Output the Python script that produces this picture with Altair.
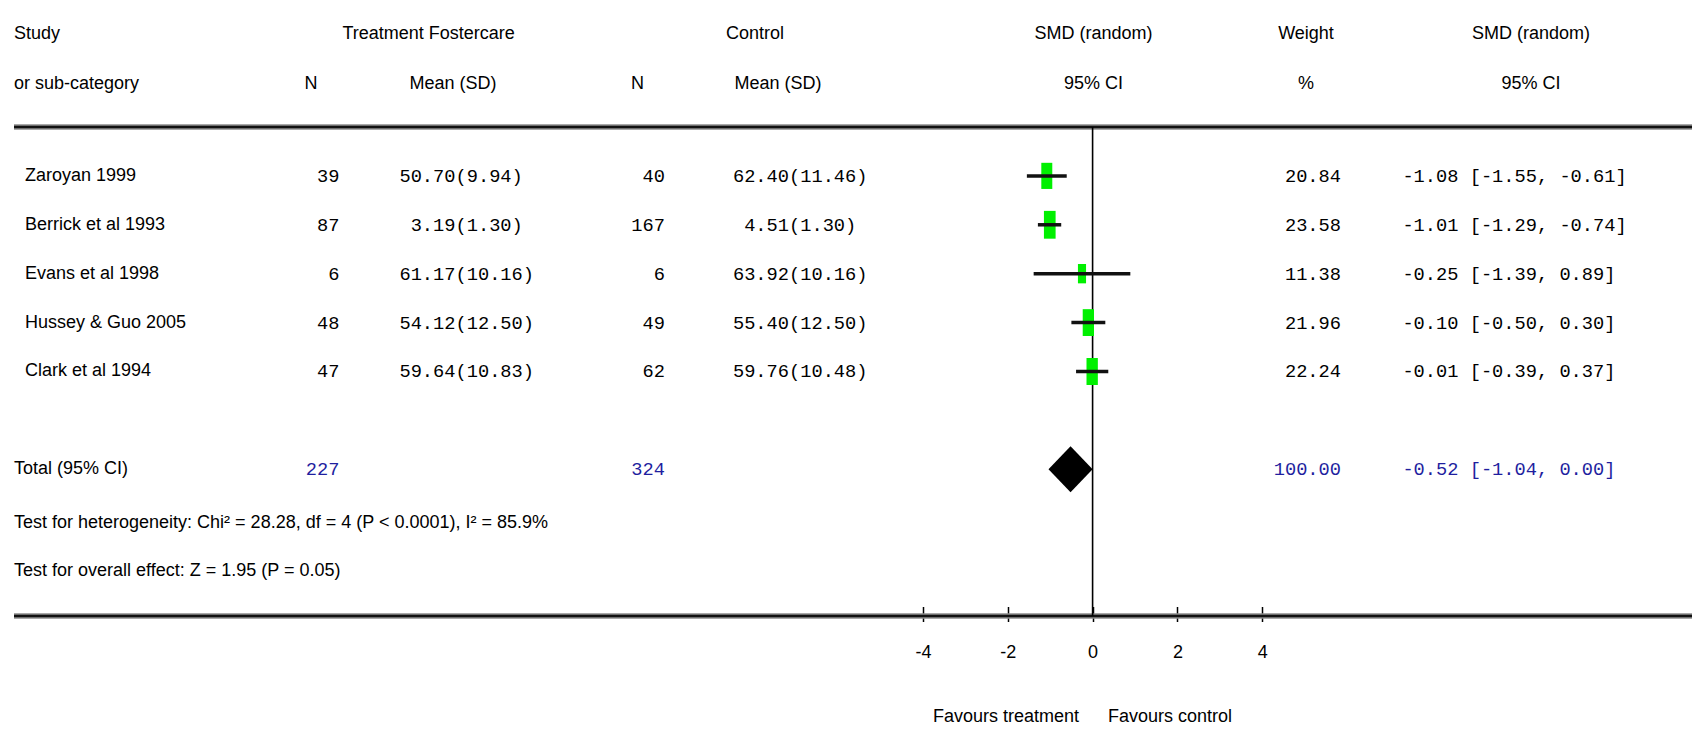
import altair as alt
import pandas as pd

# ---------------- data ----------------
studies = ["Zaroyan 1999", "Berrick et al 1993", "Evans et al 1998",
           "Hussey & Guo 2005", "Clark et al 1994"]
treat_n = [39, 87, 6, 48, 47]
treat_mean = [50.70, 3.19, 61.17, 54.12, 59.64]
treat_sd = [9.94, 1.30, 10.16, 12.50, 10.83]
ctrl_n = [40, 167, 6, 49, 62]
ctrl_mean = [62.40, 4.51, 63.92, 55.40, 59.76]
ctrl_sd = [11.46, 1.30, 10.16, 12.50, 10.48]
smd = [-1.08, -1.01, -0.25, -0.10, -0.01]
ci_low = [-1.55, -1.29, -1.39, -0.50, -0.39]
ci_high = [-0.61, -0.74, 0.89, 0.30, 0.37]
weight = [20.84, 23.58, 11.38, 21.96, 22.24]

total_label = "Total (95% CI)"
total_treat_n = 227
total_ctrl_n = 324
total_weight = 100.00
total_smd = -0.52
total_low = -1.04
total_high = 0.00

heterogeneity_text = "Test for heterogeneity: Chi\u00b2 = 28.28, df = 4 (P < 0.0001), I\u00b2 = 85.9%"
overall_text = "Test for overall effect: Z = 1.95 (P = 0.05)"
axis_ticks = [-4, -2, 0, 2, 4]
favours_left = "Favours treatment"
favours_right = "Favours control"

# ---------------- layout / style ----------------
W = 1684
H = 608
SANS = "Liberation Sans, Arial, sans-serif"
MONO = "Liberation Mono, DejaVu Sans Mono, monospace"
SANS_SIZE = 18
MONO_SIZE = 18.7
BLUE = "#1f1f9f"
GREEN = "#00f000"

study_rows = list(range(len(studies)))
ROW_TOTAL = 6
ROW_HET = 7.1
ROW_OVERALL = 8.08
ROW_H1 = -2.9
ROW_H2 = -1.88
ROW_TOPLINE = -1
ROW_BOTLINE = 9
ROW_FAV = 11.06
DIAMOND_HALF = 0.47

xscale = alt.Scale(domain=[-25.58, 14.137], nice=False, zero=False)
yscale = alt.Scale(domain=[-3.433, 9], nice=False, zero=False, reverse=True)
xaxis = alt.Axis(values=axis_ticks, title=None, domain=False, grid=False,
                 ticks=True, tickSize=15, tickWidth=1.5, tickColor="black",
                 labelFont=SANS, labelFontSize=SANS_SIZE, labelColor="black",
                 labelPadding=22, labelExpr="'' + datum.value", offset=-9.5,
                 orient="bottom")


def X(field):
    return alt.X(field, type="quantitative", scale=xscale, axis=xaxis)


Y = alt.Y("row:Q", scale=yscale, axis=None)


def text_layer(rows, texts, x_px, align, font=SANS, size=SANS_SIZE, color="black"):
    df = pd.DataFrame({"row": rows, "text": [str(t) for t in texts]})
    return alt.Chart(df).mark_text(
        align=align, baseline="middle", font=font, fontSize=size, color=color
    ).encode(x=alt.value(x_px), y=Y, text="text:N")


# ---------------- graphic layers ----------------
lines_df = pd.DataFrame({"row": [ROW_TOPLINE, ROW_BOTLINE]})
line_gray = alt.Chart(lines_df).mark_rule(color="#8c8c8c", strokeWidth=5.5).encode(
    x=alt.value(6), x2=alt.value(W), y=Y)
line_black = alt.Chart(lines_df).mark_rule(color="#111111", strokeWidth=2.5).encode(
    x=alt.value(6), x2=alt.value(W), y=Y)

zero_df = pd.DataFrame({"x": [0], "row": [ROW_TOPLINE], "row2": [ROW_BOTLINE]})
zero_line = alt.Chart(zero_df).mark_rule(color="black", strokeWidth=1.6).encode(
    x=X("x"), y=Y, y2="row2:Q")

study_df = pd.DataFrame({"row": study_rows, "smd": smd, "lo": ci_low,
                         "hi": ci_high, "weight": weight})
squares = alt.Chart(study_df).mark_point(
    shape="M-0.42,-1L0.42,-1L0.42,1L-0.42,1Z", filled=True, color=GREEN,
    opacity=1, strokeWidth=0
).encode(
    x=X("smd"), y=Y,
    size=alt.Size("weight:Q", scale=alt.Scale(domain=[0, 25], range=[0, 820]),
                  legend=None))
ci_rules = alt.Chart(study_df).mark_rule(color="#111111", strokeWidth=3.5).encode(
    x=X("lo"), x2="hi:Q", y=Y)

diamond_df = pd.DataFrame({
    "x": [total_low, total_smd, total_high],
    "row": [ROW_TOTAL, ROW_TOTAL - DIAMOND_HALF, ROW_TOTAL],
    "row2": [ROW_TOTAL, ROW_TOTAL + DIAMOND_HALF, ROW_TOTAL],
})
diamond = alt.Chart(diamond_df).mark_area(color="black", orient="vertical", opacity=1).encode(
    x=X("x"), y=Y, y2="row2:Q")

# ---------------- text layers ----------------
texts = [
    # headers
    text_layer([ROW_H1, ROW_H2], ["Study", "or sub-category"], 6, "left"),
    text_layer([ROW_H1], ["Treatment Fostercare"], 420.6, "center"),
    text_layer([ROW_H2], ["N"], 303, "center"),
    text_layer([ROW_H2], ["Mean (SD)"], 445, "center"),
    text_layer([ROW_H1], ["Control"], 747, "center"),
    text_layer([ROW_H2], ["N"], 629.5, "center"),
    text_layer([ROW_H2], ["Mean (SD)"], 770, "center"),
    text_layer([ROW_H1, ROW_H2], ["SMD (random)", "95% CI"], 1085.5, "center"),
    text_layer([ROW_H1, ROW_H2], ["Weight", "%"], 1298, "center"),
    text_layer([ROW_H1, ROW_H2], ["SMD (random)", "95% CI"], 1523, "center"),
    # study rows
    text_layer(study_rows, studies, 17, "left"),
    text_layer(study_rows, treat_n, 331.5, "right", MONO, MONO_SIZE),
    text_layer(study_rows, [f"{m:.2f}" for m in treat_mean], 447.5, "right", MONO, MONO_SIZE),
    text_layer(study_rows, [f"({s:.2f})" for s in treat_sd], 447.5, "left", MONO, MONO_SIZE),
    text_layer(study_rows, ctrl_n, 657, "right", MONO, MONO_SIZE),
    text_layer(study_rows, [f"{m:.2f}" for m in ctrl_mean], 781, "right", MONO, MONO_SIZE),
    text_layer(study_rows, [f"({s:.2f})" for s in ctrl_sd], 781, "left", MONO, MONO_SIZE),
    text_layer(study_rows, [f"{w:.2f}" for w in weight], 1333, "right", MONO, MONO_SIZE),
    text_layer(study_rows, [f"{s:.2f} [{l:.2f}, {h:.2f}]" for s, l, h in zip(smd, ci_low, ci_high)],
               1394.4, "left", MONO, MONO_SIZE),
    # totals
    text_layer([ROW_TOTAL], [total_label], 6, "left"),
    text_layer([ROW_TOTAL], [total_treat_n], 331.5, "right", MONO, MONO_SIZE, BLUE),
    text_layer([ROW_TOTAL], [total_ctrl_n], 657, "right", MONO, MONO_SIZE, BLUE),
    text_layer([ROW_TOTAL], [f"{total_weight:.2f}"], 1333, "right", MONO, MONO_SIZE, BLUE),
    text_layer([ROW_TOTAL], [f"{total_smd:.2f} [{total_low:.2f}, {total_high:.2f}]"],
               1394.4, "left", MONO, MONO_SIZE, BLUE),
    text_layer([ROW_HET, ROW_OVERALL], [heterogeneity_text, overall_text], 6, "left"),
    # favours labels
    text_layer([ROW_FAV], [favours_left], 1071, "right"),
    text_layer([ROW_FAV], [favours_right], 1100, "left"),
]

chart = alt.layer(
    line_gray, line_black, zero_line, squares, ci_rules, diamond, *texts
).properties(
    width=W, height=H, padding=0, background="white"
).configure_view(stroke=None)

chart.save("out.html", embed_options={"renderer": "svg", "actions": False})
